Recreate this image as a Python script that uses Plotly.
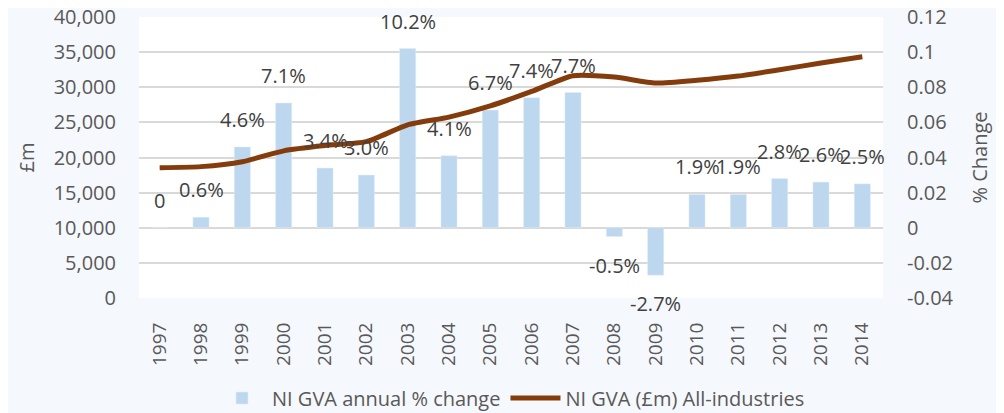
import plotly.graph_objects as go

years = ["1997", "1998", "1999", "2000", "2001", "2002", "2003", "2004", "2005",
         "2006", "2007", "2008", "2009", "2010", "2011", "2012", "2013", "2014"]
pct_change = [0.0, 0.006, 0.046, 0.071, 0.034, 0.030, 0.102, 0.041, 0.067,
              0.074, 0.077, -0.005, -0.027, 0.019, 0.019, 0.028, 0.026, 0.025]
pct_labels = ["0", "0.6%", "4.6%", "7.1%", "3.4%", "3.0%", "10.2%", "4.1%", "6.7%",
              "7.4%", "7.7%", "-0.5%", "-2.7%", "1.9%", "1.9%", "2.8%", "2.6%", "2.5%"]
gva_m = [18550, 18700, 19400, 20950, 21700, 22250, 24650, 25750, 27350,
         29400, 31650, 31450, 30600, 31000, 31600, 32500, 33450, 34350]

left_ticks = [0, 5000, 10000, 15000, 20000, 25000, 30000, 35000, 40000]
left_ticktext = ["0", "5,000", "10,000", "15,000", "20,000", "25,000", "30,000", "35,000", "40,000"]
right_ticks = [-0.04, -0.02, 0, 0.02, 0.04, 0.06, 0.08, 0.1, 0.12]
right_ticktext = ["-0.04", "-0.02", "0", "0.02", "0.04", "0.06", "0.08", "0.1", "0.12"]

FONT = "Open Sans"
TICK = "#595959"
CLEAR = "rgba(0,0,0,0)"

fig = go.Figure()
fig.add_trace(go.Bar(
    x=years, y=pct_change, name="NI GVA annual % change",
    marker_color="#bdd7ee", yaxis="y", hoverinfo="x+y",
))
fig.add_trace(go.Scatter(
    x=years, y=gva_m, name="NI GVA (£m) All-industries",
    mode="lines", line=dict(color="#843c0c", width=5, shape="spline", smoothing=0.6),
    yaxis="y2",
))

for i, (v, t) in enumerate(zip(pct_change, pct_labels)):
    neg = v < 0
    fig.add_annotation(
        x=i, y=v, xref="x", yref="y", text=t, showarrow=False,
        yanchor="top" if neg else "bottom",
        yshift=-13 if neg else 12,
        font=dict(family=FONT, size=20, color="#404040"),
    )

fig.update_layout(
    width=996, height=405,
    margin=dict(l=131, r=121, t=9, b=115, autoexpand=False),
    paper_bgcolor="#f5f8fc", plot_bgcolor="#ffffff",
    font=dict(family=FONT, size=20, color=TICK),
    bargap=0.61,
    showlegend=True,
    legend=dict(orientation="h", x=0.5, xanchor="center", yref="container", y=0.037,
                yanchor="middle",
                font=dict(family=FONT, size=20, color=TICK), bgcolor=CLEAR,
                itemwidth=50, traceorder="normal"),
    xaxis=dict(type="category", range=[-0.5, len(years) - 0.5], tickangle=-90,
               showgrid=False, showline=False, automargin=False,
               ticks="outside", ticklen=16, tickcolor=CLEAR,
               tickfont=dict(family=FONT, size=19, color=TICK)),
    yaxis=dict(side="right", range=[-0.04, 0.12], tickvals=right_ticks, ticktext=right_ticktext,
               showgrid=True, gridcolor="#d9d9d9", gridwidth=1.5, zeroline=False,
               showline=False, ticks="outside", ticklen=19, tickcolor=CLEAR, automargin=False,
               ticklabeloverflow="allow",
               tickfont=dict(family=FONT, size=20, color=TICK),
               title=dict(text="% Change", standoff=20, font=dict(family=FONT, size=20, color=TICK))),
    yaxis2=dict(side="left", overlaying="y", range=[0, 40000], tickvals=left_ticks,
                ticktext=left_ticktext, showgrid=False, zeroline=False, showline=False,
                ticks="outside", ticklen=18, tickcolor=CLEAR, automargin=False,
                ticklabeloverflow="allow",
                tickfont=dict(family=FONT, size=20, color=TICK),
                title=dict(text="£m", standoff=13, font=dict(family=FONT, size=20, color=TICK))),
)

fig.write_html("out.html")
